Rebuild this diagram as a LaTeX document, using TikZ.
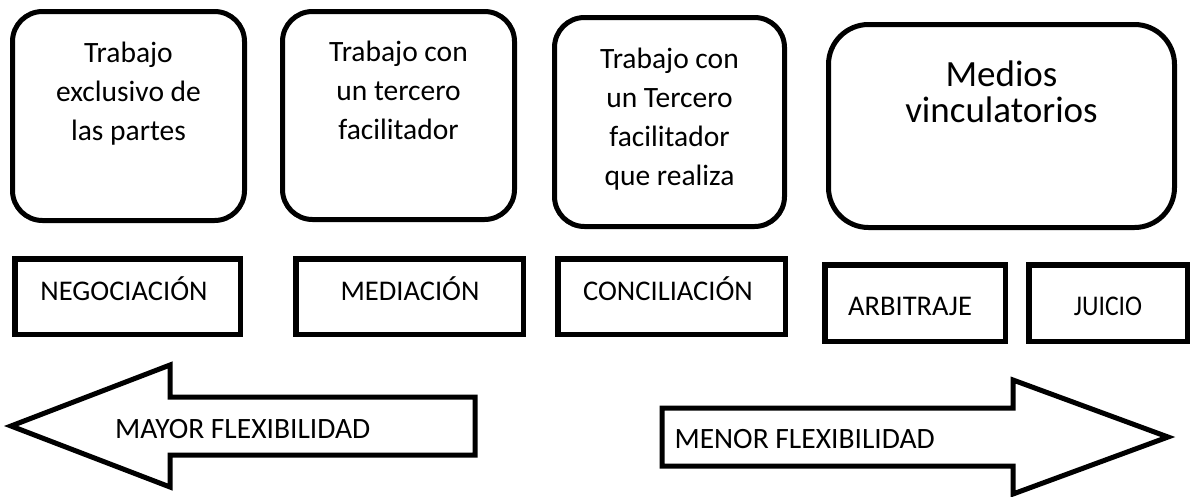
\documentclass[tikz,border=0pt]{standalone}
\usepackage{fontspec}
\setmainfont{Carlito}
\tikzset{
  panel/.style={draw, line width=5pt, rounded corners=30pt, inner sep=0pt},
  tag/.style={draw, line width=5.5pt, inner sep=0pt},
  flecha/.style={draw, line width=5pt, line join=miter},
  paneltext/.style={anchor=base, align=center, inner sep=0pt, font=\fontsize{29.5}{39}\selectfont},
  tagtext/.style={anchor=base, inner sep=0pt, font=\fontsize{28.5}{34}\selectfont}
}
\begin{document}
\begin{tikzpicture}[x=1pt, y=-1pt]
  \useasboundingbox (0,0) rectangle (1194,496);
  % rounded panels
  \node[panel, minimum width=232pt, minimum height=209pt] (p1) at (128.5,116) {};
  \node[panel, minimum width=232pt, minimum height=208pt] (p2) at (398.5,115.5) {};
  \node[panel, minimum width=230pt, minimum height=209pt] (p3) at (669.5,122) {};
  \node[panel, rounded corners=40pt, minimum width=346pt, minimum height=203pt] (p4) at (1001.5,126) {};
  % texts (anchored on the last line)
  \node[paneltext] (t1) at (128.5,140) {Trabajo\\exclusivo de\\las partes};
  \node[paneltext] (t2) at (398.5,139) {Trabajo con\\un tercero\\facilitador};
  \node[paneltext] (t3) at (669.5,185) {Trabajo con\\un Tercero\\facilitador\\que realiza};
  \node[paneltext, font=\fontsize{37}{36}\selectfont] (t4) at (1001.5,122) {Medios\\vinculatorios};
  % method boxes
  \node[tag, minimum width=225.5pt, minimum height=75.5pt] (neg) at (127.5,296.5) {};
  \node[tag, minimum width=227.5pt, minimum height=75.5pt] (med) at (409.5,296.5) {};
  \node[tag, minimum width=227.5pt, minimum height=75.5pt] (con) at (671.5,296.5) {};
  \node[tag, minimum width=180.5pt, minimum height=76.5pt] (arb) at (915,303) {};
  \node[tag, minimum width=158.5pt, minimum height=76.5pt] (jui) at (1108,303) {};
  \node[tagtext] (negt) at (124,300) {NEGOCIACIÓN};
  \node[tagtext] (medt) at (410,300) {MEDIACIÓN};
  \node[tagtext] (cont) at (668,300) {CONCILIACIÓN};
  \node[tagtext] (arbt) at (910,315) {ARBITRAJE};
  \node[tagtext] (juit) at (1108,315) {\scalebox{0.9}[1]{JUICIO}};
  % arrows
  \draw[flecha] (11,426) -- (170,365) -- (170,397) -- (475,397) -- (475,455)
    -- (170,455) -- (170,487) -- cycle;
  \draw[flecha] (662,408) -- (1013,408) -- (1013,380) -- (1168,437) -- (1013,494)
    -- (1013,466) -- (662,466) -- cycle;
  \node[tagtext, anchor=base west, font=\fontsize{29.5}{34}\selectfont] (mayor) at (115,438) {MAYOR FLEXIBILIDAD};
  \node[tagtext, anchor=base east, font=\fontsize{29.5}{34}\selectfont] (menor) at (935,448) {MENOR FLEXIBILIDAD};
\end{tikzpicture}
\end{document}
